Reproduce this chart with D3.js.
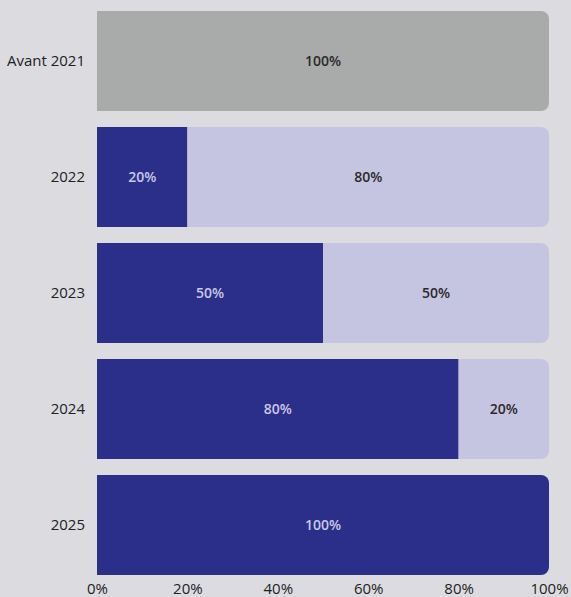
<!DOCTYPE html>
<html>
<head>
<meta charset="utf-8">
<script src="https://cdn.jsdelivr.net/npm/d3@7"></script>
<style>
  body { margin: 0; background: #dcdce0; }
  #chart { width: 571px; height: 597px; }
  text { font-family: 'Open Sans', sans-serif; }
</style>
</head>
<body>
<div id="chart"></div>
<script>
// Données
const categories = ['Avant 2021', '2022', '2023', '2024', '2025'];
const series = ['avant', 'fonce', 'clair'];
const avant = [100, 0, 0, 0, 0];
const fonce = [0, 20, 50, 80, 100];
const clair = [0, 80, 50, 20, 0];
const ticks = [0, 20, 40, 60, 80, 100];

const colors = { avant: '#a9abab', fonce: '#2b2f8a', clair: '#c5c5e2' };
const textColors = { avant: '#2a2a2a', fonce: '#c8c8e8', clair: '#2a2a2a' };

let rows = categories.map(function(c, i) {
    return { cat: c, avant: avant[i], fonce: fonce[i], clair: clair[i] };
});

let margin = {top: 3, right: 22, bottom: 14, left: 97};
let width = 571 - margin.left - margin.right,
    height = 597 - margin.top - margin.bottom;

let svg = d3.select('#chart').append('svg')
    .attr('width', 571).attr('height', 597);
let chart = svg.append('g')
    .attr('transform', 'translate(' + margin.left + ',' + margin.top + ')');

let x = d3.scaleLinear().domain([0, 100]).range([0, width]);
let y = d3.scaleBand().domain(categories).range([0, height])
    .paddingInner(0.138).paddingOuter(0.069);

let stacked = d3.stack().keys(series)(rows);

// dernier segment non nul de chaque ligne -> coins arrondis à droite
function lastKey(d) {
    let k = null;
    series.forEach(function(s) { if (d[s] > 0) k = s; });
    return k;
}

function segPath(x0, x1, y0, h, r) {
    if (!r) return `M${x0},${y0}H${x1}V${y0 + h}H${x0}Z`;
    return `M${x0},${y0}H${x1 - r}A${r},${r} 0 0 1 ${x1},${y0 + r}` +
        `V${y0 + h - r}A${r},${r} 0 0 1 ${x1 - r},${y0 + h}H${x0}Z`;
}

stacked.forEach(function(layer) {
    let g = chart.append('g').attr('class', 'g_rect rect-' + layer.key);
    layer.forEach(function(d) {
        if (d[1] - d[0] <= 0) return;
        let r = lastKey(d.data) === layer.key ? 8 : 0;
        g.append('path')
            .attr('d', segPath(x(d[0]), x(d[1]), y(d.data.cat), y.bandwidth(), r))
            .attr('fill', colors[layer.key]);
        g.append('text')
            .attr('x', (x(d[0]) + x(d[1])) / 2)
            .attr('y', y(d.data.cat) + y.bandwidth() / 2)
            .attr('dy', '0.35em')
            .attr('text-anchor', 'middle')
            .attr('font-size', 14)
            .attr('font-weight', 600)
            .attr('fill', textColors[layer.key])
            .text((d[1] - d[0]) + '%');
    });
});

// Axe Y
chart.append('g')
    .call(d3.axisLeft(y).tickSize(0).tickPadding(12))
    .call(function(g) { g.select('.domain').remove(); })
    .call(function(g) {
        g.selectAll('.tick text').attr('font-size', 15)
            .attr('fill', '#222').style('font-family', "'Open Sans', sans-serif");
    });

// Axe X
chart.append('g')
    .attr('transform', 'translate(0,' + height + ')')
    .call(d3.axisBottom(x).tickValues(ticks).tickSize(0).tickPadding(0)
        .tickFormat(function(d) { return d + '%'; }))
    .call(function(g) { g.select('.domain').remove(); })
    .call(function(g) {
        g.selectAll('.tick text').attr('font-size', 15)
            .attr('fill', '#222').style('font-family', "'Open Sans', sans-serif");
    });
</script>
</body>
</html>
